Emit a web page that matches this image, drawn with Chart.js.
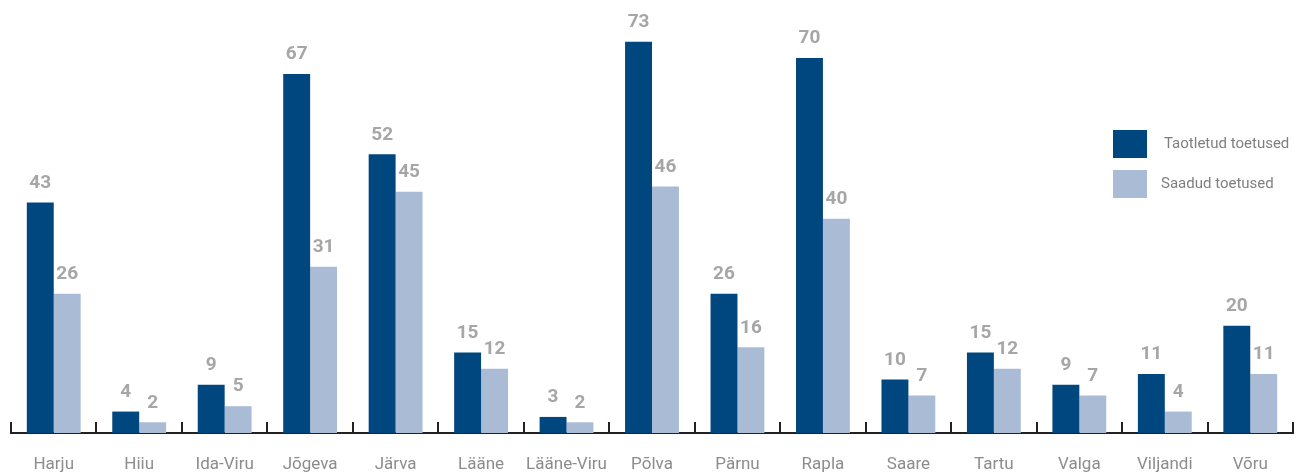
<!DOCTYPE html>
<html>
<head>
<meta charset="utf-8">
<script src="https://cdn.jsdelivr.net/npm/chart.js@4"></script>
<style>
  html, body { margin: 0; padding: 0; background: #fff; }
  #wrap { width: 1305px; height: 476px; }
</style>
</head>
<body>
<div id="wrap"><canvas id="myChart" width="1305" height="476"></canvas></div>
<script>
const counties = ['Harju', 'Hiiu', 'Ida-Viru', 'Jõgeva', 'Järva', 'Lääne', 'Lääne-Viru', 'Põlva', 'Pärnu', 'Rapla', 'Saare', 'Tartu', 'Valga', 'Viljandi', 'Võru'];
const applied = [43, 4, 9, 67, 52, 15, 3, 73, 26, 70, 10, 15, 9, 11, 20];
const received = [26, 2, 5, 31, 45, 12, 2, 46, 16, 40, 7, 12, 7, 4, 11];

const DARK = '#00467f';
const LIGHT = '#aabbd6';
const FONT = 'Roboto, "DejaVu Sans", sans-serif';

// value labels above the bars
const valueLabels = {
  id: 'valueLabels',
  afterDatasetsDraw(chart) {
    const ctx = chart.ctx;
    ctx.save();
    ctx.font = 'bold 19px ' + FONT;
    ctx.fillStyle = '#a6a6a6';
    ctx.textAlign = 'center';
    ctx.textBaseline = 'bottom';
    chart.data.datasets.forEach((ds, i) => {
      chart.getDatasetMeta(i).data.forEach((bar, j) => {
        ctx.fillText(ds.data[j], bar.x, bar.y - 10);
      });
    });
    ctx.restore();
  }
};

// upward tick marks at category boundaries
const boundaryTicks = {
  id: 'boundaryTicks',
  afterDraw(chart) {
    const x = chart.scales.x;
    const ctx = chart.ctx;
    const bottom = chart.chartArea.bottom;
    const step = x.width / counties.length;
    ctx.save();
    ctx.strokeStyle = '#222';
    ctx.lineWidth = 2;
    for (let i = 0; i <= counties.length; i++) {
      const px = Math.round(x.left + i * step);
      ctx.beginPath();
      ctx.moveTo(px, bottom);
      ctx.lineTo(px, bottom - 11);
      ctx.stroke();
    }
    ctx.restore();
  }
};

// legend box at the right
const sideLegend = {
  id: 'sideLegend',
  afterDraw(chart) {
    const ctx = chart.ctx;
    ctx.save();
    ctx.font = '15px ' + FONT;
    ctx.textBaseline = 'middle';
    const items = [
      { y: 130, text: chart.data.datasets[0].label, color: DARK, tx: 1164 },
      { y: 170, text: chart.data.datasets[1].label, color: LIGHT, tx: 1161 }
    ];
    items.forEach(it => {
      ctx.fillStyle = it.color;
      ctx.fillRect(1113, it.y, 34, 28);
      ctx.fillStyle = '#7f7f7f';
      ctx.fillText(it.text, it.tx, it.y + 14);
    });
    ctx.restore();
  }
};

const ctx = document.getElementById('myChart').getContext('2d');
new Chart(ctx, {
  type: 'bar',
  data: {
    labels: counties,
    datasets: [
      { label: 'Taotletud toetused', data: applied, backgroundColor: DARK },
      { label: 'Saadud toetused', data: received, backgroundColor: LIGHT }
    ]
  },
  options: {
    responsive: false,
    animation: false,
    layout: { padding: { left: 11, right: 12, top: 0, bottom: 0 } },
    plugins: {
      legend: { display: false },
      tooltip: { enabled: false }
    },
    datasets: {
      bar: { barPercentage: 1, categoryPercentage: 0.63 }
    },
    scales: {
      x: {
        grid: { display: false, drawTicks: false },
        border: { display: true, color: '#222', width: 2 },
        ticks: { color: '#8c8c8c', font: { family: FONT, size: 17 }, padding: 22, maxRotation: 0 },
        afterFit(scale) { scale.height = 43; }
      },
      y: {
        display: false,
        min: 0,
        max: 80.8
      }
    }
  },
  plugins: [valueLabels, boundaryTicks, sideLegend]
});
</script>
</body>
</html>
